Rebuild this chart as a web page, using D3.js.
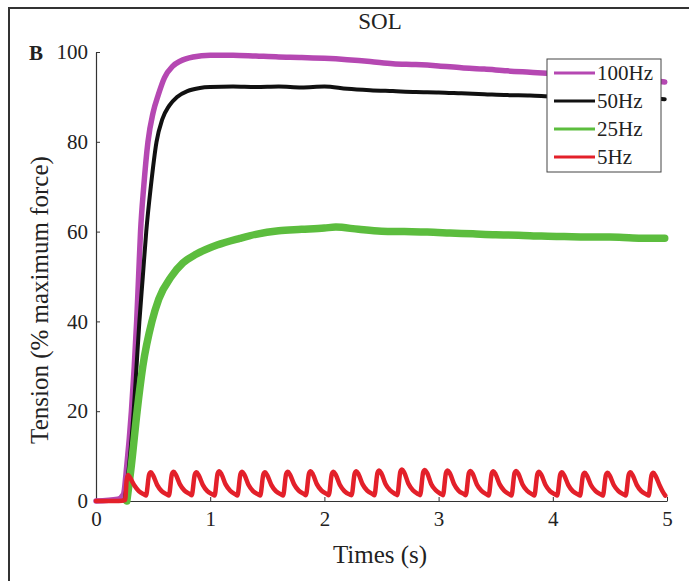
<!DOCTYPE html>
<html>
<head>
<meta charset="utf-8">
<script src="https://cdn.jsdelivr.net/npm/d3@7"></script>
<style>
  body { margin: 0; background: #fff; }
  svg text { font-family: "Liberation Serif", "DejaVu Serif", serif; fill: #222; }
</style>
</head>
<body>
<svg id="chart" width="689" height="581"></svg>
<script>
// values: [time (s), tension (% max force)]
const hz100 = [
  [0, 0], [0.19, 0.4], [0.24, 1.5], [0.27, 8], [0.31, 20], [0.335, 30], [0.356, 40],
  [0.373, 50], [0.39, 60], [0.418, 70], [0.455, 80], [0.5, 86.5], [0.546, 90.5], [0.6, 94.3],
  [0.67, 96.8], [0.74, 98], [0.85, 98.9], [1.0, 99.3], [1.2, 99.3], [1.4, 99.1],
  [1.6, 98.9], [1.8, 98.8], [2.0, 98.6], [2.2, 98.3], [2.4, 97.9], [2.6, 97.4],
  [2.8, 97.2], [3.0, 96.9], [3.2, 96.5], [3.4, 96.2], [3.6, 95.8], [3.8, 95.5],
  [4.0, 95.2], [4.2, 94.8], [4.4, 94.6], [4.6, 94.2], [4.8, 93.8], [4.98, 93.3]
];
const hz50 = [
  [0.25, 0], [0.29, 8], [0.33, 20], [0.355, 30], [0.38, 40], [0.41, 50], [0.44, 60],
  [0.48, 70], [0.53, 80], [0.58, 85], [0.64, 88], [0.71, 90], [0.8, 91.3], [0.91, 92],
  [1.0, 92.2], [1.2, 92.3], [1.4, 92.2], [1.6, 92.3], [1.8, 92.1], [2.0, 92.3],
  [2.2, 91.8], [2.4, 91.5], [2.6, 91.3], [2.8, 91.1], [3.0, 91.0], [3.2, 90.8],
  [3.4, 90.6], [3.6, 90.4], [3.8, 90.3], [4.0, 90.1], [4.2, 90.0], [4.4, 89.9],
  [4.6, 89.8], [4.8, 89.7], [4.98, 89.5]
];
const hz25 = [
  [0.27, 0], [0.31, 8], [0.36, 20], [0.41, 30], [0.49, 40], [0.55, 45], [0.66, 50],
  [0.76, 53], [0.88, 55], [1.06, 57], [1.26, 58.5], [1.4, 59.4], [1.6, 60.2],
  [1.8, 60.5], [2.0, 60.8], [2.1, 61], [2.3, 60.5], [2.5, 60.1], [2.7, 60],
  [2.9, 59.9], [3.1, 59.7], [3.3, 59.5], [3.5, 59.3], [3.7, 59.2], [3.9, 59.0],
  [4.1, 58.9], [4.3, 58.8], [4.5, 58.8], [4.7, 58.6], [4.98, 58.5]
];
// one twitch per row: trough, rise, peak, shoulder, decay, tail
const hz5 = [
  [0, 0], [0.2, 0], [0.255, 0.2],
  [0.268, 4.5], [0.28, 5.8], [0.3, 5.1], [0.335, 3.5], [0.375, 2.2], [0.425, 1.4],
  [0.438, 1.2], [0.465, 5.9], [0.48, 6.4], [0.5, 5.7], [0.535, 3.6], [0.575, 2.2], [0.625, 1.4],
  [0.638, 1.2], [0.665, 6.0], [0.68, 6.5], [0.7, 5.8], [0.735, 3.7], [0.775, 2.3], [0.825, 1.5],
  [0.838, 1.3], [0.865, 5.9], [0.88, 6.4], [0.9, 5.7], [0.935, 3.6], [0.975, 2.2], [1.025, 1.4],
  [1.038, 1.2], [1.065, 6.1], [1.08, 6.6], [1.1, 5.9], [1.135, 3.7], [1.175, 2.3], [1.225, 1.4],
  [1.238, 1.2], [1.265, 6.0], [1.28, 6.5], [1.3, 5.8], [1.335, 3.6], [1.375, 2.2], [1.425, 1.4],
  [1.438, 1.2], [1.465, 5.9], [1.48, 6.4], [1.5, 5.7], [1.535, 3.6], [1.575, 2.2], [1.625, 1.4],
  [1.638, 1.2], [1.665, 6.0], [1.68, 6.5], [1.7, 5.8], [1.735, 3.7], [1.775, 2.3], [1.825, 1.5],
  [1.838, 1.3], [1.865, 6.1], [1.88, 6.6], [1.9, 5.9], [1.935, 3.7], [1.975, 2.3], [2.025, 1.5],
  [2.038, 1.3], [2.065, 6.0], [2.08, 6.5], [2.1, 5.8], [2.135, 3.6], [2.175, 2.2], [2.225, 1.4],
  [2.238, 1.3], [2.265, 6.1], [2.28, 6.6], [2.3, 5.9], [2.335, 3.7], [2.375, 2.3], [2.425, 1.5],
  [2.438, 1.3], [2.465, 6.3], [2.48, 6.8], [2.5, 6.1], [2.535, 3.8], [2.575, 2.4], [2.625, 1.5],
  [2.638, 1.3], [2.665, 6.5], [2.68, 7.0], [2.7, 6.3], [2.735, 3.9], [2.775, 2.4], [2.825, 1.5],
  [2.838, 1.3], [2.865, 6.4], [2.88, 6.9], [2.9, 6.2], [2.935, 3.8], [2.975, 2.4], [3.025, 1.5],
  [3.038, 1.3], [3.065, 6.3], [3.08, 6.8], [3.1, 6.1], [3.135, 3.8], [3.175, 2.3], [3.225, 1.5],
  [3.238, 1.3], [3.265, 6.2], [3.28, 6.7], [3.3, 6.0], [3.335, 3.7], [3.375, 2.3], [3.425, 1.4],
  [3.438, 1.2], [3.465, 6.1], [3.48, 6.6], [3.5, 5.9], [3.535, 3.7], [3.575, 2.3], [3.625, 1.4],
  [3.638, 1.2], [3.665, 6.2], [3.68, 6.7], [3.7, 6.0], [3.735, 3.7], [3.775, 2.3], [3.825, 1.4],
  [3.838, 1.2], [3.865, 6.0], [3.88, 6.5], [3.9, 5.8], [3.935, 3.6], [3.975, 2.2], [4.025, 1.4],
  [4.038, 1.2], [4.065, 5.9], [4.08, 6.4], [4.1, 5.7], [4.135, 3.6], [4.175, 2.2], [4.225, 1.4],
  [4.238, 1.2], [4.265, 5.8], [4.28, 6.3], [4.3, 5.6], [4.335, 3.5], [4.375, 2.2], [4.425, 1.4],
  [4.438, 1.2], [4.465, 5.8], [4.48, 6.3], [4.5, 5.6], [4.535, 3.5], [4.575, 2.2], [4.625, 1.4],
  [4.638, 1.2], [4.665, 5.9], [4.68, 6.4], [4.7, 5.7], [4.735, 3.6], [4.775, 2.2], [4.825, 1.4],
  [4.838, 1.2], [4.865, 5.8], [4.88, 6.3], [4.9, 5.6], [4.935, 3.5], [4.96, 2.2], [4.985, 1.2]
];

const seriesNames = ["100Hz", "50Hz", "25Hz", "5Hz"];
const seriesData = [hz100, hz50, hz25, hz5];
const seriesColors = ["#b548b2", "#111111", "#5cbd3e", "#e3202a"];
const seriesWidths = [5.5, 4, 7.5, 4.5];
const xTicks = [0, 1, 2, 3, 4, 5];
const yTicks = [0, 20, 40, 60, 80, 100];

const svg = d3.select("#chart");

// outer frame of the figure panel
svg.append("path")
  .attr("d", "M9,581V8H689")
  .attr("fill", "none")
  .attr("stroke", "#333")
  .attr("stroke-width", 2);

const x = d3.scaleLinear().domain([0, 5]).range([96, 667]);
const y = d3.scaleLinear().domain([0, 100]).range([501, 52]);

const line = d3.line()
  .x((d) => x(d[0]))
  .y((d) => y(d[1]))
  .curve(d3.curveMonotoneX);

const gx = svg.append("g")
  .attr("transform", `translate(0,${y(0)})`)
  .call(d3.axisBottom(x).tickValues(xTicks).tickFormat(d3.format("d"))
    .tickSizeInner(-4).tickSizeOuter(0).tickPadding(10));
const gy = svg.append("g")
  .attr("transform", `translate(${x(0)},0)`)
  .call(d3.axisLeft(y).tickValues(yTicks).tickFormat(d3.format("d"))
    .tickSizeInner(-4).tickSizeOuter(0).tickPadding(8));

[gx, gy].forEach((g) => {
  g.select(".domain").attr("stroke", "#333").attr("stroke-width", 1.2);
  g.selectAll(".tick line").attr("stroke", "#333");
  g.selectAll(".tick text")
    .style("font-size", "21px")
    .style("font-family", '"Liberation Serif", serif')
    .attr("fill", "#222");
});

const plot = svg.append("g");
seriesData.forEach((data, i) => {
  plot.append("path")
    .datum(data)
    .attr("fill", "none")
    .attr("stroke", seriesColors[i])
    .attr("stroke-width", seriesWidths[i])
    .attr("stroke-linejoin", "round")
    .attr("stroke-linecap", "round")
    .attr("d", line);
});

// titles
svg.append("text")
  .attr("x", 380).attr("y", 29)
  .attr("text-anchor", "middle")
  .style("font-size", "23px")
  .text("SOL");
svg.append("text")
  .attr("x", 29).attr("y", 60)
  .style("font-size", "21px")
  .style("font-weight", "bold")
  .text("B");
svg.append("text")
  .attr("x", 380).attr("y", 563)
  .attr("text-anchor", "middle")
  .style("font-size", "25px")
  .text("Times (s)");
svg.append("text")
  .attr("transform", "translate(48,300) rotate(-90)")
  .attr("text-anchor", "middle")
  .style("font-size", "25px")
  .text("Tension (% maximum force)");

// legend
const legend = svg.append("g").attr("transform", "translate(547,59)");
legend.append("rect")
  .attr("width", 114).attr("height", 113)
  .attr("fill", "#fff")
  .attr("stroke", "#444")
  .attr("stroke-width", 1);
seriesNames.forEach((name, i) => {
  const row = legend.append("g").attr("transform", `translate(0,${14 + i * 28})`);
  row.append("line")
    .attr("x1", 7).attr("x2", 48)
    .attr("stroke", seriesColors[i])
    .attr("stroke-width", 3);
  row.append("text")
    .attr("x", 50).attr("y", 7)
    .style("font-size", "21px")
    .text(name);
});
</script>
</body>
</html>
